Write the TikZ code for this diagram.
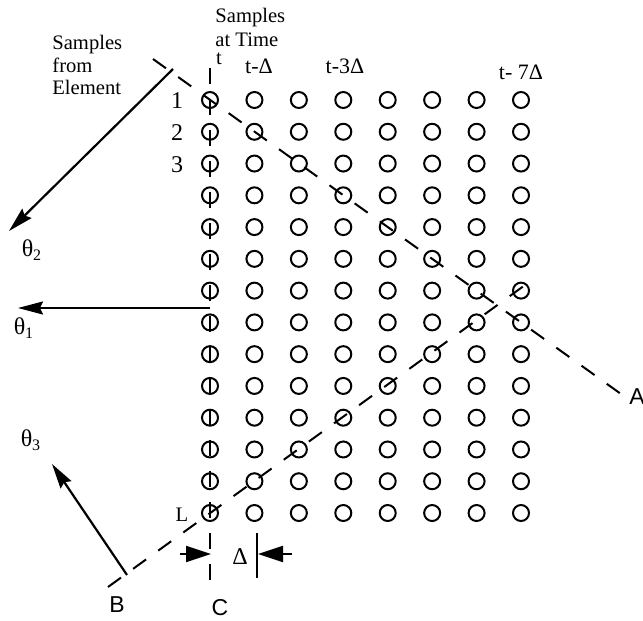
\documentclass[tikz,border=0pt]{standalone}
\usepackage{fontspec}
\setmainfont{Liberation Serif}
\newfontfamily\lsans{Liberation Sans}
\usetikzlibrary{arrows.meta}

\begin{document}
\begin{tikzpicture}[
    x=0.5pt, y=-0.5pt,
    smp/.style={circle, draw=black, line width=1pt, minimum size=8pt, inner sep=0pt},
    guide/.style={draw=black, line width=1pt, dash pattern=on 8pt off 7.5pt},
    dirarrow/.style={draw=black, line width=1.1pt, -{Stealth[length=12.5pt, width=6.5pt, inset=1.5pt]}},
    dimarrow/.style={draw=black, line width=1pt, -{Triangle[length=12.5pt, width=8pt]}},
    lbl/.style={inner sep=0pt, font=\fontsize{10.3}{11.3}\selectfont},
    num/.style={inner sep=0pt, font=\fontsize{12}{14}\selectfont},
    ends/.style={inner sep=0pt, font=\lsans\fontsize{11.5}{13}\selectfont}
]
    \useasboundingbox (0,0) rectangle (643,621);

    % Sample grid
    \foreach \r in {0,...,13}
        \foreach \c in {0,...,7}
            \node[smp] (s-\r-\c) at (210+44.43*\c, 100+31.77*\r) {};

    % Header labels
    \node[lbl, anchor=west, align=left] (elem) at (52,65) {Samples\\from\\Element};
    \node[lbl, anchor=west] (time1) at (215,18) {Samples};
    \node[lbl, anchor=west] (time2) at (215,40) {at Time};
    \node[lbl] (col0) at (219,59) {t};
    \node[num, font=\fontsize{11}{13}\selectfont] (col1) at (259,66) {t-Δ};
    \node[num, font=\fontsize{11}{13}\selectfont] (col3) at (345,66) {t-3Δ};
    \node[num, font=\fontsize{11}{13}\selectfont] (col7) at (521,72) {t- 7Δ};

    % Row labels
    \node[num] (row1) at (177,101) {1};
    \node[num] (row2) at (177,133) {2};
    \node[num] (row3) at (177,165) {3};
    \node[lbl] (rowL) at (182,515) {L};

    % Guide lines
    \coordinate (Ctop) at (210,68);
    \coordinate (Cbot) at (210,593);
    \coordinate (Atop) at (153,59);
    \coordinate (Aend) at (628,399);
    \coordinate (Bend) at (108,587);
    \coordinate (Btop) at (532,280);
    \draw[guide] (Ctop) -- (Cbot);
    \draw[guide] (Atop) -- (Aend);
    \draw[guide] (Bend) -- (Btop);
    \node[ends] (labA) at (637,397) {A};
    \node[ends] (labB) at (117,605) {B};
    \node[ends] (labC) at (220,608) {C};

    % Directions
    \coordinate (th2s) at (173,69);
    \coordinate (th2e) at (9,231);
    \coordinate (th1s) at (210,308);
    \coordinate (th1e) at (18,308);
    \coordinate (th3s) at (127,575);
    \coordinate (th3e) at (52,464);
    \draw[dirarrow] (th2s) -- (th2e);
    \draw[dirarrow] (th1s) -- (th1e);
    \draw[dirarrow] (th3s) -- (th3e);
    \node[num] (lab2) at (32,250) {θ\textsubscript{2}};
    \node[num] (lab1) at (24,328) {θ\textsubscript{1}};
    \node[num] (lab3) at (31,440) {θ\textsubscript{3}};

    % Spacing Delta
    \coordinate (dLs) at (180,554);
    \coordinate (dLe) at (211,554);
    \coordinate (dRs) at (292,554);
    \coordinate (dRe) at (258,554);
    \coordinate (barT) at (257,533);
    \coordinate (barB) at (257,578);
    \draw[dimarrow] (dLs) -- (dLe);
    \draw[dimarrow] (dRs) -- (dRe);
    \draw[line width=1pt] (barT) -- (barB);
    \node[num] (labD) at (240,557) {Δ};

\end{tikzpicture}
\end{document}
